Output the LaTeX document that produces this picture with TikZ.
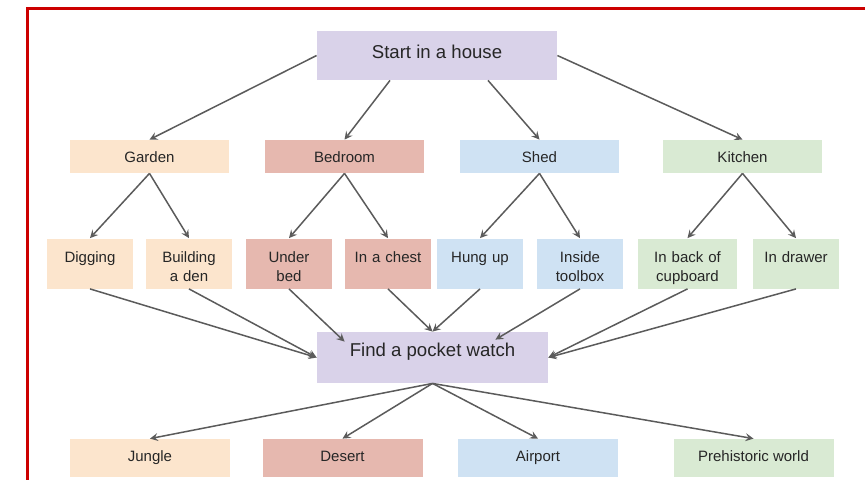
\documentclass[tikz,border=0pt]{standalone}
\usepackage{fontspec}
\setmainfont{Liberation Sans}
\usepackage{tikz}
\usetikzlibrary{arrows}
\definecolor{lavender}{HTML}{D9D2E9}
\definecolor{peach}{HTML}{FCE5CD}
\definecolor{rose}{HTML}{E6B8AF}
\definecolor{skyblue}{HTML}{CFE2F3}
\definecolor{mint}{HTML}{D9EAD3}
\definecolor{linegray}{HTML}{5B5B5B}
\definecolor{framered}{HTML}{CC0000}
\tikzstyle{mainbox} = [rectangle, minimum width=120pt, minimum height=24.5pt, inner sep=0pt, text centered, text height=6.8pt, text depth=3.9pt, fill=lavender, text=black!85, font=\fontsize{9.3}{11}\selectfont]
\tikzstyle{roombox} = [rectangle, minimum width=79.5pt, minimum height=16.5pt, inner sep=0pt, text centered, text height=5.5pt, text depth=0pt, text=black!85, font=\fontsize{7.5}{9.5}\selectfont]
\tikzstyle{placebox} = [rectangle, minimum width=43pt, minimum height=25pt, inner sep=0pt, text centered, text width=43pt, text height=7pt, text depth=8.5pt, text=black!85, font=\fontsize{7.5}{9.5}\selectfont]
\tikzstyle{worldbox} = [rectangle, minimum width=80pt, minimum height=19pt, inner sep=0pt, text centered, text height=5.5pt, text depth=1.6pt, text=black!85, font=\fontsize{7.5}{9.5}\selectfont]
\tikzstyle{arrow} = [line width=0.75pt, draw=linegray, ->, >=stealth]
\tikzstyle{frame} = [line width=1.5pt, draw=framered]

\begin{document}
\begin{tikzpicture}[node distance = 50pt]
  \useasboundingbox (-218.5pt,27.75pt) rectangle (214pt,-211.75pt);
  \draw [frame] (-204.75pt,-230pt) |- (240pt,23.5pt);
  \node (start) [mainbox] {Start in a house};
  \node (garden) [roombox, fill=peach, below of = start, xshift = -143.75pt, yshift = -0.5pt] {Garden};
  \node (bedroom) [roombox, fill=rose, right of = garden, xshift = 47.5pt] {Bedroom};
  \node (shed) [roombox, fill=skyblue, right of = bedroom, xshift = 47.5pt] {Shed};
  \node (kitchen) [roombox, fill=mint, right of = shed, xshift = 51.5pt] {Kitchen};
  \node (digging) [placebox, fill=peach, below of = garden, xshift = -29.75pt, yshift = -3.5pt] {Digging};
  \node (den) [placebox, fill=peach, right of = digging, xshift = -0.5pt] {Building\\a den};
  \node (underbed) [placebox, fill=rose, below of = bedroom, xshift = -27.75pt, yshift = -3.5pt] {Under\\bed};
  \node (chest) [placebox, fill=rose, right of = underbed, xshift = -0.5pt] {In a chest};
  \node (hungup) [placebox, fill=skyblue, below of = shed, xshift = -29.75pt, yshift = -3.5pt] {Hung up};
  \node (toolbox) [placebox, fill=skyblue, right of = hungup] {Inside\\toolbox};
  \node (cupboard) [placebox, fill=mint, minimum width=49.5pt, text width=49.5pt, below of = kitchen, xshift = -27.5pt, yshift = -3.5pt] {In back of\\cupboard};
  \node (drawer) [placebox, fill=mint, right of = cupboard, xshift = 4.25pt] {In drawer};
  \node (watch) [mainbox, minimum width=115.5pt, minimum height=25.5pt, text depth=8pt, below of = chest, xshift = 22.25pt, yshift = 3pt] {Find a pocket watch};
  \node (jungle) [worldbox, fill=peach, below of = watch, xshift = -141.25pt, yshift = -0.25pt] {Jungle};
  \node (desert) [worldbox, fill=rose, right of = jungle, xshift = 46.25pt] {Desert};
  \node (airport) [worldbox, fill=skyblue, right of = desert, xshift = 47.75pt] {Airport};
  \node (prehistoric) [worldbox, fill=mint, right of = airport, xshift = 57.75pt] {Prehistoric world};
  \draw [arrow] (start.west) -- (garden.north);
  \draw [arrow] ([xshift=-23.5pt]start.south) -- (bedroom.north);
  \draw [arrow] ([xshift=25.5pt]start.south) -- (shed.north);
  \draw [arrow] (start.east) -- (kitchen.north);
  \draw [arrow] (garden.south) -- (digging.north);
  \draw [arrow] (garden.south) -- (den.north);
  \draw [arrow] (bedroom.south) -- (underbed.north);
  \draw [arrow] (bedroom.south) -- (chest.north);
  \draw [arrow] (shed.south) -- (hungup.north);
  \draw [arrow] (shed.south) -- (toolbox.north);
  \draw [arrow] (kitchen.south) -- (cupboard.north);
  \draw [arrow] (kitchen.south) -- (drawer.north);
  \draw [arrow] (digging.south) -- (watch.west);
  \draw [arrow] (den.south) -- (watch.west);
  \draw [arrow] (underbed.south) -- ([xshift=14pt, yshift=-5pt]watch.north west);
  \draw [arrow] (chest.south) -- (watch.north);
  \draw [arrow] (hungup.south) -- (watch.north);
  \draw [arrow] (toolbox.south) -- ([xshift=-26.5pt, yshift=-4pt]watch.north east);
  \draw [arrow] (cupboard.south) -- (watch.east);
  \draw [arrow] (drawer.south) -- (watch.east);
  \draw [arrow] (watch.south) -- (jungle.north);
  \draw [arrow] (watch.south) -- (desert.north);
  \draw [arrow] (watch.south) -- (airport.north);
  \draw [arrow] (watch.south) -- (prehistoric.north);
\end{tikzpicture}
\end{document}
